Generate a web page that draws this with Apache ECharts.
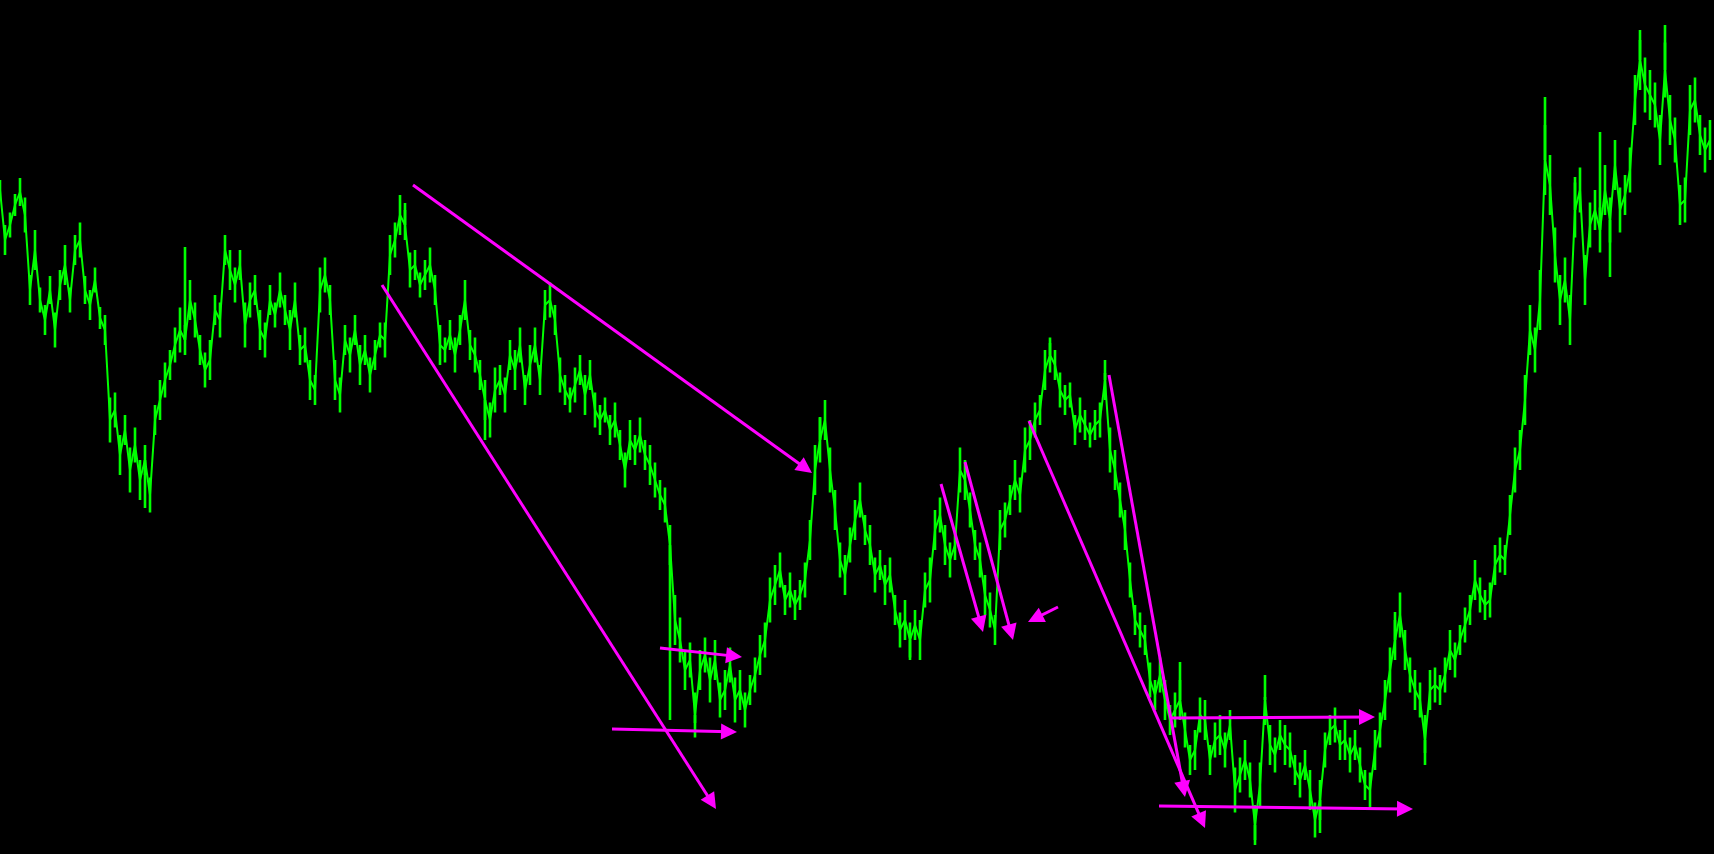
<!DOCTYPE html>
<html><head><meta charset="utf-8">
<script src="https://cdn.jsdelivr.net/npm/echarts@6/dist/echarts.min.js"></script>
<style>html,body{margin:0;padding:0;background:#000;overflow:hidden}#c{width:1714px;height:854px;}</style>
</head><body><div id="c"></div>
<script>
// price readings, one every time step (left to right)
const priceSeg1 = [664,614,629,649,662,639,564,604,554,534,
564,524,569,589,554,604,614,564,549,574,
536,524,434,444,399,424,384,409,374,394,
359,434,454,474,489,509,524,514,554,534,
504,484,494,544,534,604,584,569,589,529,
554,564,524,514,554,539,564,544,524,554,
504,509,474,464,564,579,554,474,459,514,
499,524,489,504,479,499,519,514,599,614,
639,629,584,589,569];
const priceSeg2 = [579,589,564,509,504,519,499,524,554,509,
499,479,454,434,464,474,459,499,484,509,
464,489,509,474,549,554,534,479,464,454,
469,484,459,479,444,434,444,424,434,409,
384,414,404,419,399,389,374,359,349,309,
234,214,184,194,139,184,199,174,194,154,
164,189,154,164,144,164,179,199,214,254,
269,284,254,264,249];
const priceSeg3 = [259,274,314,384,414,434,384,344,294,279,
309,334,354,324,309,279,289,269,279,244,
224,234,214,229,214,264,274,324,339,309,
294,309,384,374,344,309,294,259,244,224,
324,334,354,374,359,404,414,434,444,484,
499,489,464,454,459,424,439,429,419,429,
434,474,404,384,354,324,274,234,224,214];
const priceSeg4 = [174,159,179,154,134,144,154,124,94,104,
139,134,94,114,119,104,129,64,79,94,
74,29,69,154,109,99,119,109,104,84,
74,89,64,34,54,104,124,129,109,114,
99,109,89,69,64,104,124,154,184,214,
239];
const priceSeg5 = [204,179,164,154,114,164,169,164,179,204,
194,214,229,244,274,259,249,254,289,299,
294,339,384,404,454];
const priceSeg6 = [524,504,554,694,669,599,554,574,534,644,
664,574,629,644,624,664,634,689,644,659,
684,754,794,769,759,749,714,784,734,714,
649,654,744,754,719,704,714];
const price = [].concat(priceSeg1, priceSeg2, priceSeg3, priceSeg4, priceSeg5, priceSeg6);

// high-low range of each step's bar
const rangeSeg1 = [20,30,25,22,28,35,30,40,25,30,
28,35,30,40,25,30,35,28,30,25,
22,30,45,35,40,30,45,35,40,30,
35,30,40,35,30,35,45,30,40,35,
30,35,40,30,35,30,40,35,30,45,
35,30,40,35,30,25,35,30,40,35,
30,35,40,30,45,35,30,40,35,30,
35,30,40,30,35,30,25,35,40,35,
40,30,35,30,25];
const rangeSeg2 = [30,35,30,40,25,30,35,30,40,30,
35,30,40,35,45,30,35,30,40,35,
30,40,35,30,30,35,30,35,30,25,
35,30,40,30,35,30,25,30,35,30,
35,40,30,35,30,40,35,30,35,40,
50,45,40,35,45,40,35,45,40,35,
40,35,45,40,35,30,35,40,35,45,
40,35,30,35,30];
const rangeSeg3 = [30,35,40,50,45,40,45,40,35,40,
35,40,35,30,40,35,30,40,35,30,
35,40,35,30,40,35,45,40,35,40,
35,30,45,40,35,30,35,40,35,30,
40,35,30,40,35,45,40,35,30,40,
35,30,35,30,25,30,35,30,25,30,
35,40,45,40,35,40,35,30,35,30];
const rangeSeg4 = [35,30,35,40,30,35,40,35,30,40,
35,40,30,35,40,35,30,45,35,40,
35,40,45,50,40,35,30,40,35,30,
35,30,40,35,40,35,30,35,30,40,
35,30,35,30,35,40,35,40,45,40,
45];
const rangeSeg5 = [40,35,40,35,50,40,35,30,35,40,
35,30,35,30,40,35,30,35,40,35,
30,40,45,40,50];
const rangeSeg6 = [50,45,60,70,60,55,50,45,50,55,
45,50,45,40,45,50,45,50,45,40,
45,50,60,55,50,45,50,55,50,45,
40,45,50,45,40,45,40];
const range = [].concat(rangeSeg1, rangeSeg2, rangeSeg3, rangeSeg4, rangeSeg5, rangeSeg6);

// isolated spikes: [time step, extreme price]
const spikes = [[29,346],[37,607],[81,651],[97,414],[134,134],[139,131],[164,437],[182,194],
  [210,511],[221,481],[236,192],[251,14],[253,157],[264,21],[279,242],[285,101],
  [309,757],[315,677],[320,722],[322,577],[328,814],[333,829]];

// annotation arrows: [time, price] start and end
const arrowStarts = [[82.6,669],[76.4,569],[132,206],[122.4,125],[188.2,370],[193,392],[211.6,247],[205.8,433],[221.8,479],[234,136],[231.8,48]];
const arrowEnds   = [[162.4,381],[143.2,45],[148.4,197],[147.4,122],[196.6,222],[202.6,214],[205.6,232],[241,26],[237,57],[275,137],[282.6,45]];

const chart = echarts.init(document.getElementById('c'));

const barData = price.map((v, i) => [i, v - range[i] / 2, v + range[i] / 2]);
const spikeData = spikes.map(s => [s[0], price[s[0]], s[1]]);

function vbar(params, api) {
  const p1 = api.coord([api.value(0), api.value(1)]);
  const p2 = api.coord([api.value(0), api.value(2)]);
  return {
    type: 'line',
    shape: {x1: p1[0], y1: p1[1], x2: p2[0], y2: p2[1]},
    style: {stroke: '#00ff00', lineWidth: 2.6}
  };
}

chart.setOption({
  backgroundColor: '#000000',
  animation: false,
  grid: {left: 0, right: 0, top: 0, bottom: 0},
  xAxis: {type: 'value', min: 0, max: 342.8, show: false},
  yAxis: {type: 'value', min: 0, max: 854, show: false},
  series: [
    {
      type: 'line',
      data: price.map((v, i) => [i, v]),
      showSymbol: false,
      symbol: 'none',
      lineStyle: {color: '#00ff00', width: 2},
      itemStyle: {color: '#00ff00'},
      z: 2
    },
    {type: 'custom', renderItem: vbar, data: barData, z: 2, silent: true},
    {type: 'custom', renderItem: vbar, data: spikeData, z: 2, silent: true},
    {
      type: 'lines',
      coordinateSystem: 'cartesian2d',
      data: arrowStarts.map((s, k) => ({coords: [s, arrowEnds[k]]})),
      symbol: ['none', 'triangle'],
      symbolSize: [9, 16],
      lineStyle: {color: '#ff00ff', width: 3, opacity: 1, curveness: 0},
      itemStyle: {color: '#ff00ff'},
      z: 3
    }
  ]
});

// pull each arrow's end back so the head's tip lands on the end point
const adjusted = arrowStarts.map((s, k) => {
  const a = chart.convertToPixel({gridIndex: 0}, s);
  const b = chart.convertToPixel({gridIndex: 0}, arrowEnds[k]);
  const dx = b[0] - a[0], dy = b[1] - a[1];
  const len = Math.sqrt(dx * dx + dy * dy);
  const nb = [b[0] - dx / len * 8, b[1] - dy / len * 8];
  return {coords: [s, chart.convertFromPixel({gridIndex: 0}, nb)]};
});
chart.setOption({series: [{}, {}, {}, {data: adjusted}]});
</script></body></html>
